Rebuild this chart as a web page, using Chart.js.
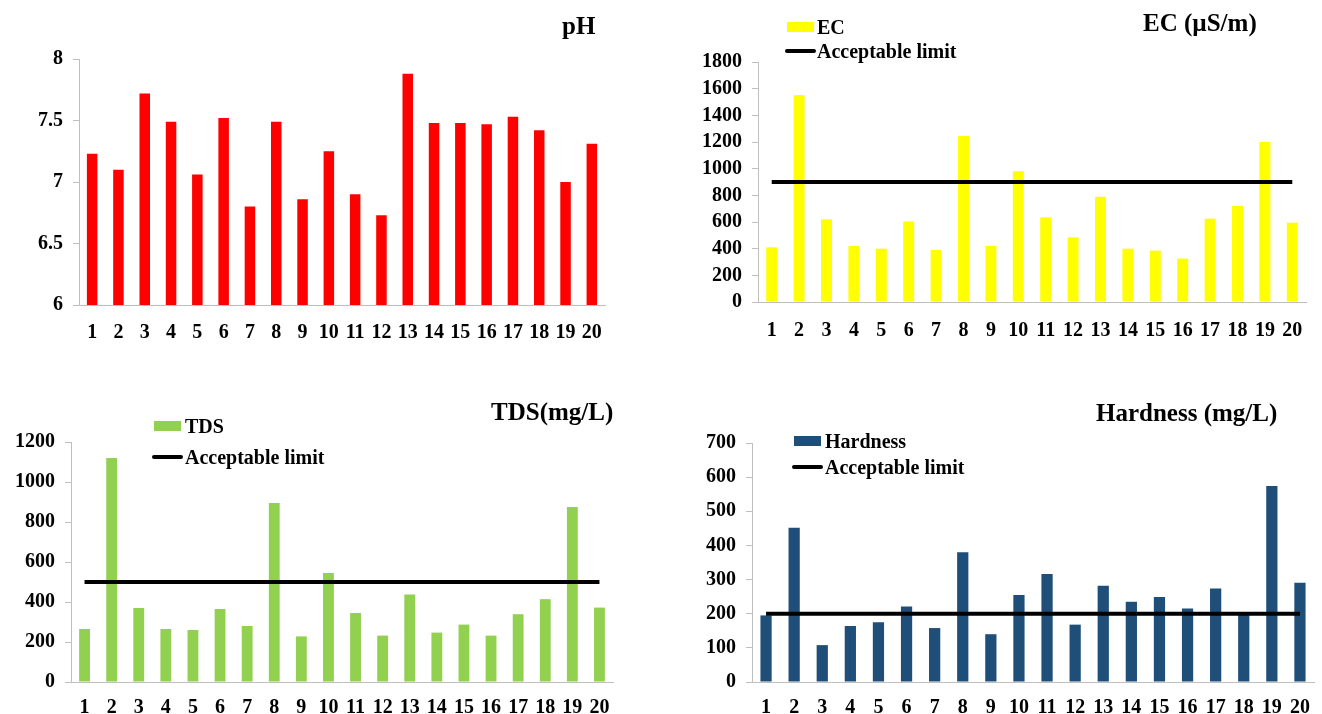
<!DOCTYPE html>
<html>
<head>
<meta charset="utf-8">
<script src="https://cdn.jsdelivr.net/npm/chart.js@4.4.0/dist/chart.umd.min.js"></script>
<style>
  body { margin: 0; background: #fff; }
  #page { position: relative; width: 1322px; height: 714px; overflow: hidden;
          font-family: "Liberation Serif", "Times New Roman", serif; font-weight: bold; color: #000; }
  canvas { position: absolute; }
  .title { position: absolute; font-size: 25px; line-height: 1; white-space: nowrap; transform: translateY(-50%); }
  .legend-text { position: absolute; font-size: 20px; line-height: 1; white-space: nowrap; transform: translateY(-50%); }
  .swatch { position: absolute; }
</style>
</head>
<body>
<div id="page"></div>
<script>
// sampling sites
const sites = ['1', '2', '3', '4', '5', '6', '7', '8', '9', '10',
               '11', '12', '13', '14', '15', '16', '17', '18', '19', '20'];

const phValues = [7.23, 7.10, 7.72, 7.49, 7.06, 7.52, 6.80, 7.49, 6.86, 7.25,
                  6.90, 6.73, 7.88, 7.48, 7.48, 7.47, 7.53, 7.42, 7.00, 7.31];
const ecValues = [410, 1550, 620, 420, 400, 605, 390, 1245, 420, 980,
                  635, 485, 790, 400, 385, 325, 625, 720, 1200, 595];
const tdsValues = [265, 1120, 370, 265, 260, 365, 280, 895, 228, 545,
                   345, 232, 438, 247, 287, 232, 339, 414, 875, 372];
const hardnessValues = [195, 452, 108, 164, 175, 221, 158, 380, 140, 255,
                        316, 168, 282, 235, 249, 215, 274, 200, 574, 291];

const ecLimit = 900;
const tdsLimit = 500;
const hardnessLimit = 200;

const phTicks = [6, 8, 0.5];
const ecTicks = [0, 1800, 200];
const tdsTicks = [0, 1200, 200];
const hardnessTicks = [0, 700, 100];

const fontFamily = "'Liberation Serif', 'Times New Roman', serif";
const axisGray = '#BFBFBF';
const page = document.getElementById('page');

const panels = [
  { title: 'pH', label: 'pH', values: phValues, limit: null, ticks: phTicks, color: '#FF0000',
    box: [0, 0, 661, 357], plot: [79, 59, 605, 305], labelPad: 8,
    titlePos: [562, 25], legend: null },
  { title: 'EC (\u00B5S/m)', label: 'EC', values: ecValues, limit: ecLimit, ticks: ecTicks, color: '#FFFF00',
    box: [661, 0, 661, 357], plot: [758, 62, 1306, 302], labelPad: 9,
    titlePos: [1143, 22], legend: { x: 787, textX: 817, rows: [27, 51] } },
  { title: 'TDS(mg/L)', label: 'TDS', values: tdsValues, limit: tdsLimit, ticks: tdsTicks, color: '#92D050',
    box: [0, 357, 661, 357], plot: [71, 442, 613, 682], labelPad: 6,
    titlePos: [491, 411], legend: { x: 154, textX: 185, rows: [426, 457] } },
  { title: 'Hardness (mg/L)', label: 'Hardness', values: hardnessValues, limit: hardnessLimit, ticks: hardnessTicks, color: '#1F4E79',
    box: [661, 357, 661, 357], plot: [752, 443, 1314, 682], labelPad: 6,
    titlePos: [1096, 412], legend: { x: 794, textX: 825, rows: [441, 467] } }
];

function addDiv(cls, css, text) {
  const d = document.createElement('div');
  d.className = cls;
  d.style.cssText = css;
  if (text) d.textContent = text;
  page.appendChild(d);
  return d;
}

function makePanel(p) {
  const [bx, by, bw, bh] = p.box;
  const [pl, pt, pr, pb] = p.plot;

  const canvas = document.createElement('canvas');
  canvas.width = bw;
  canvas.height = bh;
  canvas.style.left = bx + 'px';
  canvas.style.top = by + 'px';
  page.appendChild(canvas);

  const yWidth = pl - bx;
  const xHeight = by + bh - pb;

  const datasets = [{
    type: 'bar',
    label: p.label,
    data: p.values,
    backgroundColor: p.color,
    barPercentage: 0.4,
    categoryPercentage: 1,
    order: 2
  }];
  if (p.limit !== null) {
    datasets.push({
      type: 'line',
      label: 'Acceptable limit',
      data: sites.map(() => p.limit),
      borderColor: '#000000',
      borderWidth: 4,
      pointRadius: 0,
      fill: false,
      order: 1
    });
  }

  const tickFont = { family: fontFamily, size: 20, weight: 'bold' };

  new Chart(canvas, {
    type: 'bar',
    data: { labels: sites, datasets: datasets },
    options: {
      responsive: false,
      animation: false,
      layout: { padding: { left: 0, right: bx + bw - pr, top: pt - by, bottom: 0 } },
      plugins: { legend: { display: false }, tooltip: { enabled: false } },
      scales: {
        x: {
          grid: { display: false },
          border: { color: axisGray, width: 1 },
          ticks: { color: '#000', font: tickFont, padding: p.labelPad, maxRotation: 0, autoSkip: false },
          afterFit: s => { s.height = xHeight; }
        },
        y: {
          min: p.ticks[0],
          max: p.ticks[1],
          grid: { drawOnChartArea: false, drawTicks: true, tickLength: 6, color: axisGray },
          border: { color: axisGray, width: 1 },
          ticks: { stepSize: p.ticks[2], color: '#000', font: tickFont, padding: 10, autoSkip: false,
                   callback: v => String(v) },
          afterFit: s => { s.width = yWidth; }
        }
      }
    }
  });

  addDiv('title', `left:${p.titlePos[0]}px;top:${p.titlePos[1]}px;`, p.title);

  if (p.legend) {
    datasets.forEach((ds, i) => {
      const y = p.legend.rows[i];
      if (ds.type === 'bar') {
        addDiv('swatch', `left:${p.legend.x}px;top:${y - 5}px;width:27px;height:10px;background:${ds.backgroundColor};`);
      } else {
        addDiv('swatch', `left:${p.legend.x - 2}px;top:${y - 2}px;width:31px;height:4px;background:${ds.borderColor};border-radius:2px;`);
      }
      addDiv('legend-text', `left:${p.legend.textX}px;top:${y}px;`, ds.label);
    });
  }
}

panels.forEach(makePanel);
</script>
</body>
</html>
